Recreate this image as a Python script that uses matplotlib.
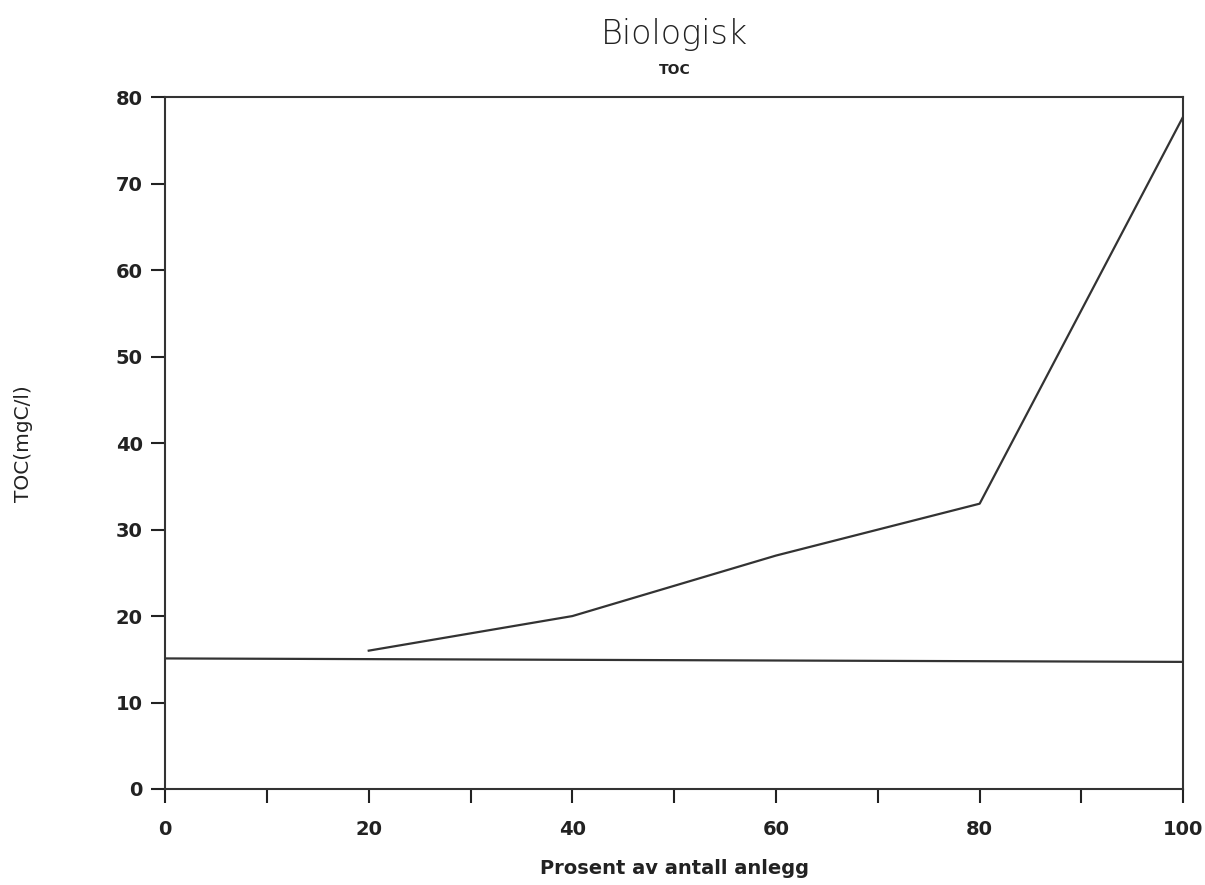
import numpy as np
import matplotlib.pyplot as plt

x_pct = [20, 40, 60, 80, 100]
toc = [16.0, 20.0, 27.0, 33.0, 77.8]
limit_x = [0, 100]
limit_y = [15.1, 14.7]

x_ticks = list(range(0, 101, 10))
x_labels = ['0', '', '20', '', '40', '', '60', '', '80', '', '100']
y_ticks = list(range(0, 81, 10))

plt.rcParams['font.family'] = ['DejaVu Sans']
fig = plt.figure(figsize=(12.05, 8.85), dpi=100)
ax = fig.add_axes([0.137, 0.1085, 0.845, 0.7815])

ax.plot(x_pct, toc, color='#333333', linewidth=1.6)
ax.plot(limit_x, limit_y, color='#333333', linewidth=1.6)

ax.set_xlim(0, 100)
ax.set_ylim(0, 80)
ax.set_xticks(x_ticks)
ax.set_xticklabels(x_labels)
ax.set_yticks(y_ticks)
ax.tick_params(axis='both', direction='out', length=10, width=1.5,
               colors='#222222', labelsize=14)
ax.tick_params(axis='x', pad=12)
ax.tick_params(axis='y', pad=6)
for lab in ax.get_xticklabels() + ax.get_yticklabels():
    lab.set_fontweight('semibold')
for s in ax.spines.values():
    s.set_linewidth(1.5)
    s.set_color('#333333')

fig.text(0.56, 0.961, 'Biologisk', ha='center', va='center',
         fontsize=24, color='#222222', fontweight='light')
fig.text(0.56, 0.921, 'TOC', ha='center', va='center',
         fontsize=10, fontweight='bold', color='#222222')
ax.set_xlabel('Prosent av antall anlegg', fontsize=14, fontweight='semibold',
              color='#222222', labelpad=15)
ax.set_ylabel('TOC(mgC/l)', fontsize=14.5, color='#222222', labelpad=60)

fig.savefig('out.png', dpi=100, facecolor='white')
